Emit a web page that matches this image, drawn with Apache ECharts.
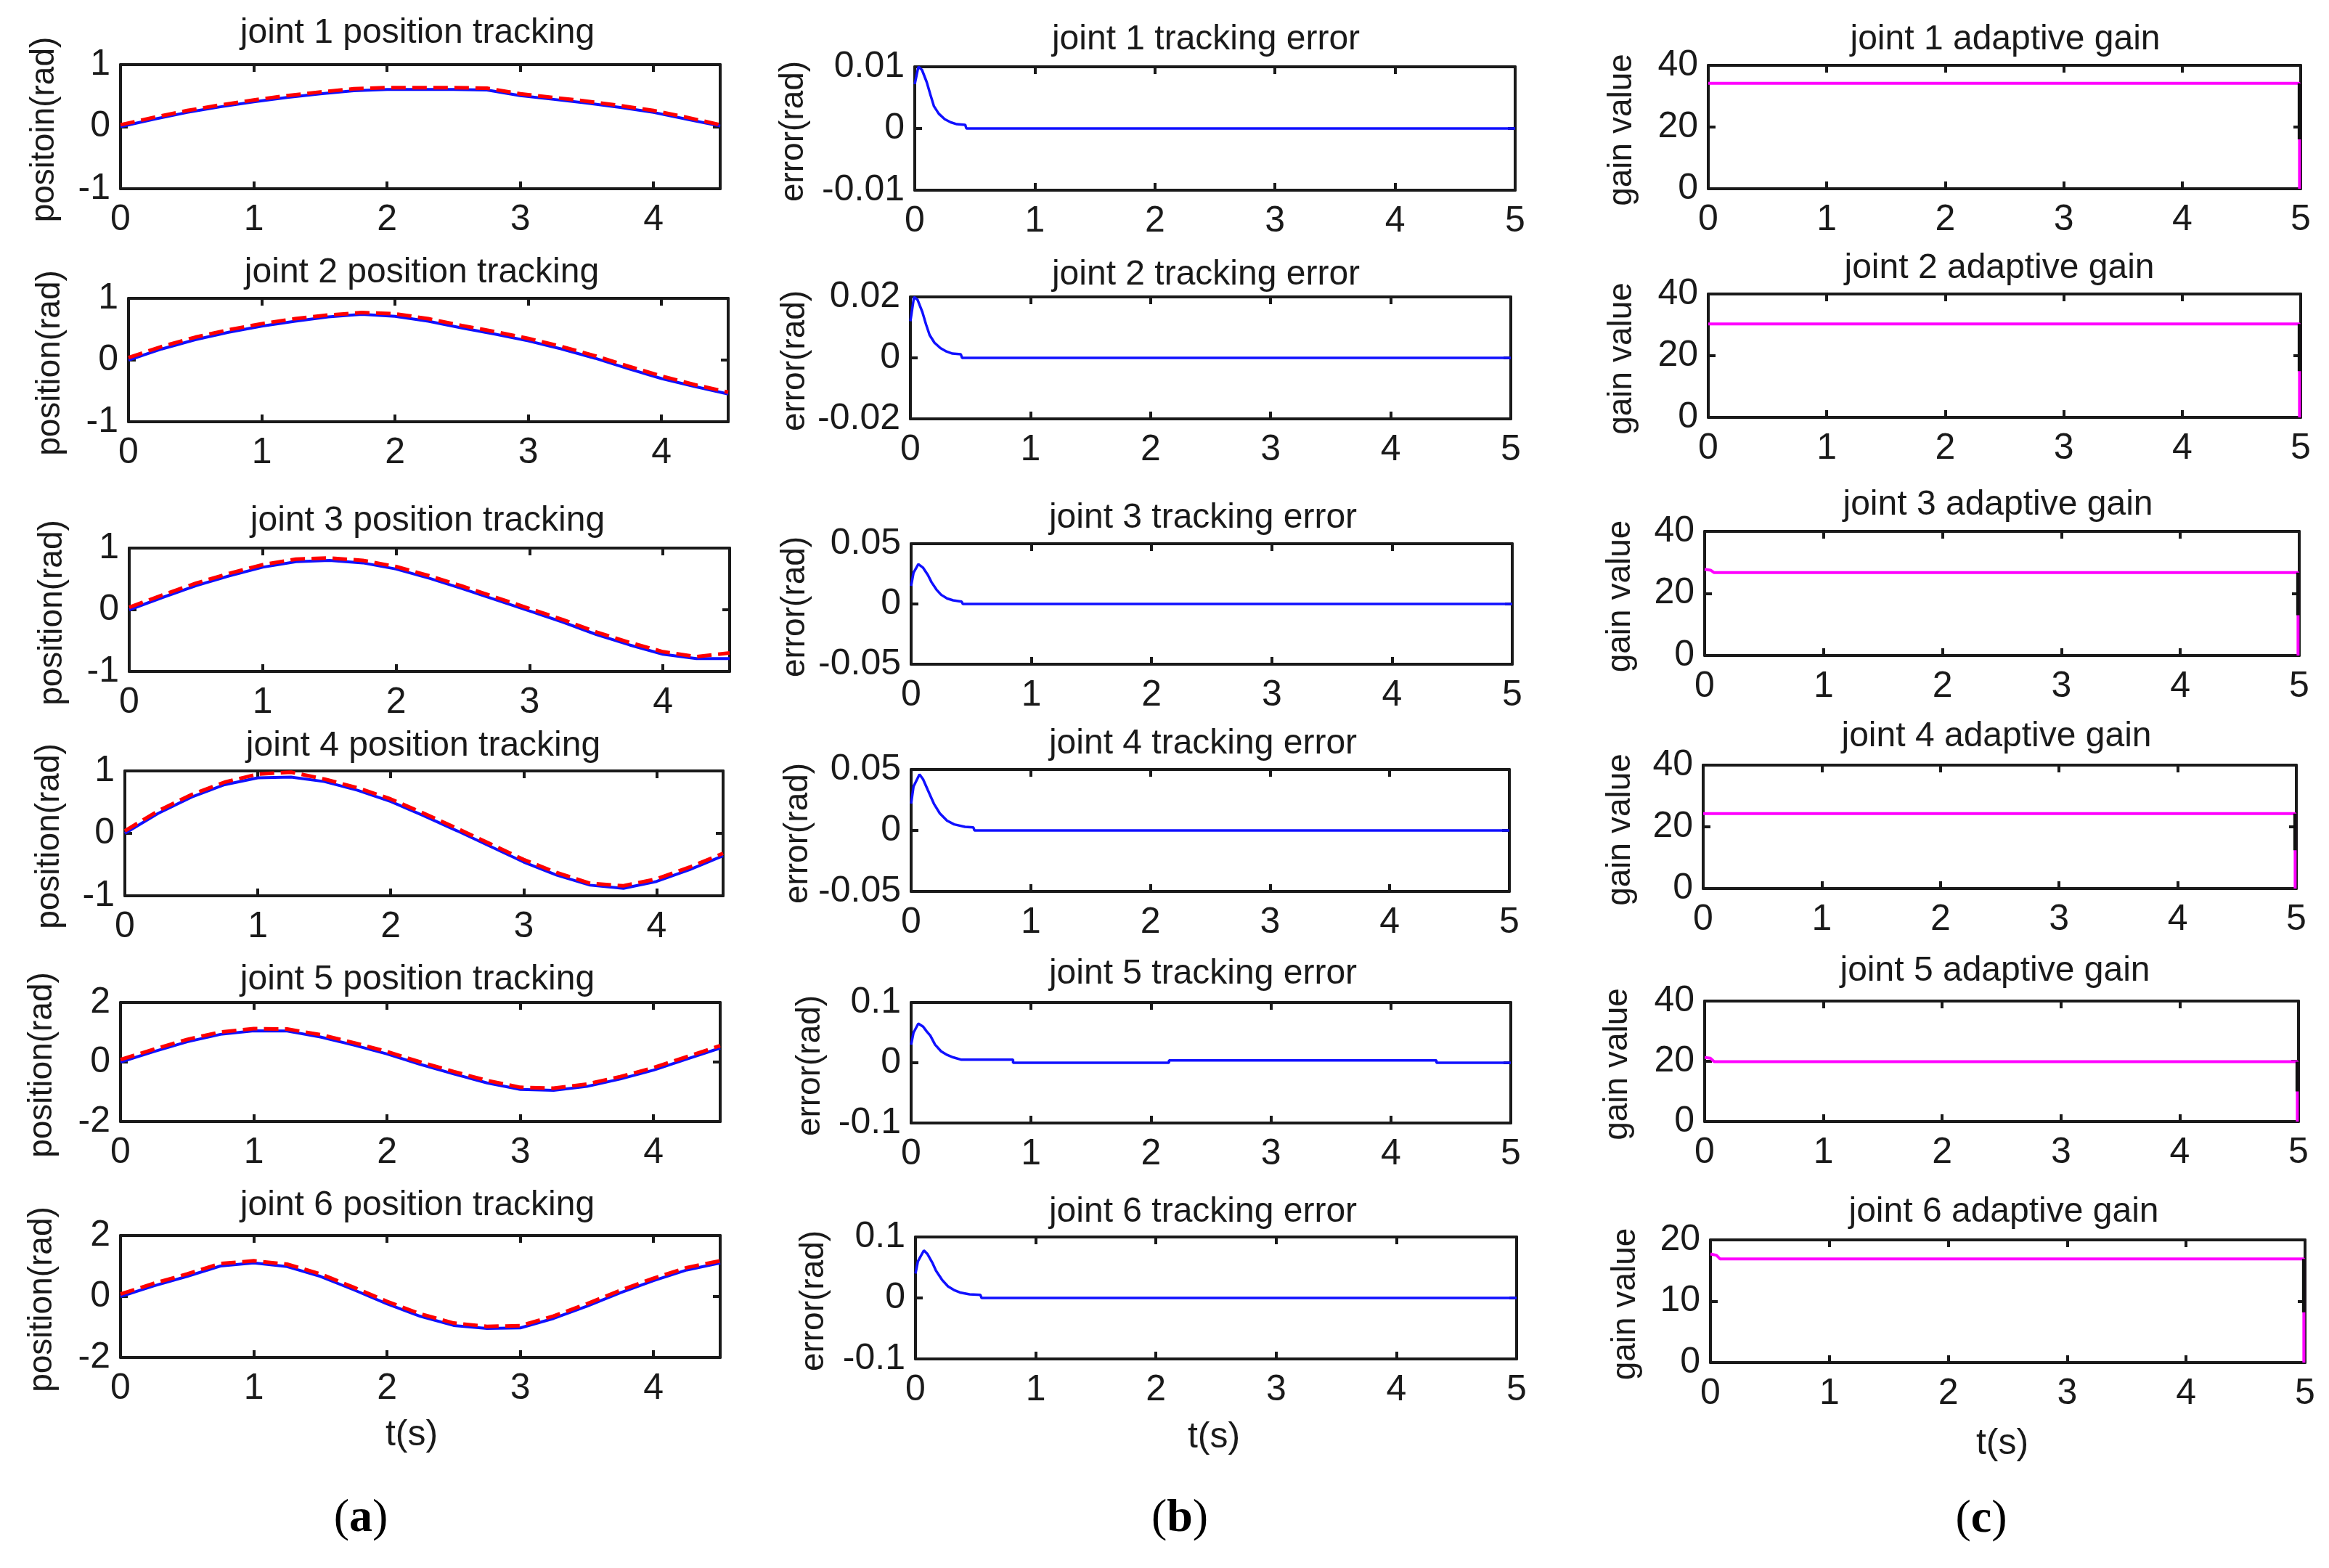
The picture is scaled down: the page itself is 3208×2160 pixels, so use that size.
<!DOCTYPE html>
<html>
<head>
<meta charset="utf-8">
<title>joint tracking</title>
<script src="https://cdn.jsdelivr.net/npm/echarts@6/dist/echarts.min.js"></script>
<style>
html, body { margin: 0; padding: 0; background: #fff; }
#chart { width: 3208px; height: 2160px; }
</style>
</head>
<body>
<div id="chart"></div>
<script>
// time base of the position plots (s)
var posTime = [0, 0.25, 0.5, 0.75, 1, 1.25, 1.5, 1.75, 2, 2.25, 2.5, 2.75, 3, 3.25, 3.5, 3.75, 4, 4.25, 4.5];

// actual (blue) and reference (red dashed) joint positions (rad)
var actJoint1 = [0, 0.12, 0.23, 0.32, 0.4, 0.47, 0.53, 0.58, 0.6, 0.6, 0.6, 0.59, 0.5, 0.44, 0.38, 0.31, 0.23, 0.12, 0.01];
var refJoint1 = [0.03, 0.15, 0.26, 0.35, 0.43, 0.5, 0.56, 0.61, 0.63, 0.63, 0.63, 0.62, 0.53, 0.47, 0.41, 0.34, 0.26, 0.15, 0.03];
var actJoint2 = [0, 0.18, 0.33, 0.45, 0.55, 0.63, 0.7, 0.74, 0.71, 0.63, 0.52, 0.42, 0.31, 0.18, 0.03, -0.14, -0.3, -0.43, -0.55];
var refJoint2 = [0.04, 0.22, 0.37, 0.49, 0.59, 0.67, 0.73, 0.77, 0.75, 0.67, 0.56, 0.46, 0.35, 0.22, 0.07, -0.1, -0.26, -0.4, -0.52];
var actJoint3 = [0, 0.2, 0.39, 0.55, 0.69, 0.78, 0.8, 0.76, 0.66, 0.51, 0.34, 0.16, -0.02, -0.2, -0.4, -0.57, -0.72, -0.79, -0.79];
var refJoint3 = [0.04, 0.24, 0.43, 0.59, 0.73, 0.82, 0.84, 0.8, 0.7, 0.55, 0.38, 0.2, 0.02, -0.16, -0.36, -0.53, -0.68, -0.76, -0.7];
var actJoint4 = [0, 0.32, 0.58, 0.78, 0.89, 0.9, 0.83, 0.69, 0.51, 0.28, 0.04, -0.21, -0.46, -0.67, -0.83, -0.88, -0.77, -0.58, -0.36];
var refJoint4 = [0.04, 0.36, 0.62, 0.82, 0.95, 0.98, 0.87, 0.73, 0.55, 0.32, 0.08, -0.17, -0.42, -0.63, -0.8, -0.84, -0.73, -0.54, -0.32];
var actJoint5 = [0, 0.35, 0.68, 0.93, 1.05, 1.04, 0.84, 0.57, 0.27, -0.08, -0.4, -0.7, -0.92, -0.95, -0.82, -0.57, -0.27, 0.1, 0.47];
var refJoint5 = [0.08, 0.43, 0.76, 1.01, 1.12, 1.11, 0.92, 0.65, 0.35, 0, -0.32, -0.62, -0.85, -0.88, -0.74, -0.49, -0.19, 0.18, 0.55];
var actJoint6 = [0, 0.35, 0.66, 1.0, 1.1, 0.98, 0.66, 0.22, -0.24, -0.65, -0.95, -1.05, -1.03, -0.72, -0.32, 0.12, 0.52, 0.87, 1.1];
var refJoint6 = [0.08, 0.43, 0.74, 1.08, 1.17, 1.06, 0.74, 0.3, -0.16, -0.57, -0.87, -0.98, -0.96, -0.64, -0.24, 0.2, 0.6, 0.95, 1.17];

// tracking errors (rad)
var errTime1 = [0, 0.03, 0.06, 0.1, 0.13, 0.16, 0.2, 0.25, 0.3, 0.35, 0.42, 0.43, 5];
var errJoint1 = [0.0072, 0.01, 0.0095, 0.0075, 0.0055, 0.0036, 0.0024, 0.0015, 0.001, 0.0007, 0.0006, 0, 0];
var errTime2 = [0, 0.03, 0.06, 0.1, 0.13, 0.16, 0.2, 0.25, 0.3, 0.35, 0.42, 0.43, 5];
var errJoint2 = [0.012, 0.02, 0.019, 0.015, 0.011, 0.0075, 0.005, 0.0032, 0.0021, 0.0014, 0.0012, 0, 0];
var errTime3 = [0, 0.02, 0.06, 0.1, 0.14, 0.17, 0.21, 0.25, 0.3, 0.35, 0.42, 0.43, 5];
var errJoint3 = [0.015, 0.026, 0.033, 0.03, 0.024, 0.018, 0.012, 0.0076, 0.0045, 0.003, 0.002, 0, 0];
var errTime4 = [0, 0.02, 0.07, 0.1, 0.14, 0.19, 0.24, 0.3, 0.36, 0.45, 0.52, 0.53, 5];
var errJoint4 = [0.022, 0.036, 0.046, 0.042, 0.033, 0.022, 0.014, 0.008, 0.005, 0.003, 0.0025, 0, 0];
var errTime5 = [0, 0.02, 0.06, 0.1, 0.13, 0.16, 0.2, 0.25, 0.3, 0.35, 0.42, 0.85, 0.85, 2.15, 2.15, 4.38, 4.38, 5];
var errJoint5 = [0.03, 0.05, 0.065, 0.06, 0.052, 0.045, 0.03, 0.019, 0.013, 0.009, 0.005, 0.005, 0, 0, 0.004, 0.004, 0, 0];
var errTime6 = [0, 0.02, 0.07, 0.1, 0.14, 0.17, 0.22, 0.27, 0.32, 0.37, 0.45, 0.54, 0.55, 5];
var errJoint6 = [0.04, 0.06, 0.078, 0.072, 0.058, 0.045, 0.03, 0.019, 0.013, 0.009, 0.006, 0.005, 0, 0];

// adaptive gains
var gainTime = [0, 0.05, 0.08, 4.99, 4.99];
var gainJoint1 = [34.2, 34.2, 34.2, 34.2, 0];
var gainJoint2 = [30.3, 30.3, 30.3, 30.3, 0];
var gainJoint3 = [27.8, 27.5, 26.7, 26.7, 0];
var gainJoint4 = [24.3, 24.3, 24.3, 24.3, 0];
var gainJoint5 = [21.3, 21, 19.9, 19.9, 0];
var gainJoint6 = [17.7, 17.5, 16.9, 16.9, 0];
var gainCut = [16, 15, 13, 12.4, 10, 8.2];

// axis ranges per row [min, max, step]
var posRange = [[-1, 1, 1], [-1, 1, 1], [-1, 1, 1], [-1, 1, 1], [-2, 2, 2], [-2, 2, 2]];
var errRange = [[-0.01, 0.01, 0.01], [-0.02, 0.02, 0.02], [-0.05, 0.05, 0.05], [-0.05, 0.05, 0.05], [-0.1, 0.1, 0.1], [-0.1, 0.1, 0.1]];
var gainRange = [[0, 40, 20], [0, 40, 20], [0, 40, 20], [0, 40, 20], [0, 40, 20], [0, 20, 10]];

// plot boxes [left, top, right, bottom] in px
var boxA = [[166, 89, 992, 260], [177, 411, 1003, 581], [178, 755, 1005, 925], [172, 1062, 996, 1234], [166, 1381, 992, 1545], [166, 1702, 992, 1870]];
var boxB = [[1260, 92, 2087, 262], [1254, 409, 2081, 577], [1255, 749, 2083, 915], [1255, 1060, 2079, 1228], [1255, 1381, 2081, 1547], [1261, 1704, 2089, 1872]];
var boxC = [[2353, 90, 3169, 260], [2353, 405, 3169, 575], [2348, 732, 3167, 903], [2346, 1054, 3163, 1224], [2348, 1379, 3166, 1545], [2356, 1708, 3175, 1877]];
var titleY = [[50, 380, 722, 1032, 1354, 1665], [59, 383, 718, 1029, 1346, 1674], [59, 374, 700, 1019, 1342, 1674]];
var titleX = [[575, 581, 589, 583, 575, 575], [1661, 1661, 1657, 1657, 1657, 1657], [2762, 2754, 2752, 2750, 2748, 2760]];
var nameX = [[61, 69, 72, 68, 58, 58], [1093, 1095, 1095, 1099, 1116, 1121], [2234, 2234, 2232, 2232, 2228, 2239]];

var actJoints = [actJoint1, actJoint2, actJoint3, actJoint4, actJoint5, actJoint6];
var refJoints = [refJoint1, refJoint2, refJoint3, refJoint4, refJoint5, refJoint6];
var errTimes = [errTime1, errTime2, errTime3, errTime4, errTime5, errTime6];
var errJoints = [errJoint1, errJoint2, errJoint3, errJoint4, errJoint5, errJoint6];
var gainJoints = [gainJoint1, gainJoint2, gainJoint3, gainJoint4, gainJoint5, gainJoint6];

var font = "'Liberation Sans', Arial, sans-serif";
var ink = '#1a1a1a';

var charts = echarts.init(document.getElementById('chart'));

var grids = [], xAxes = [], yAxes = [], series = [], titles = [], graphics = [];

function pairs(xs, ys) {
	var out = [];
	for (var i = 0; i < xs.length; i++) {
		out.push([xs[i], ys[i]]);
	}
	return out;
}

function addPanel(box, xMax, range) {
	var g = grids.length;
	grids.push({
		left : box[0],
		top : box[1],
		width : box[2] - box[0],
		height : box[3] - box[1]
	});
	var tick = {
		show : true,
		inside : true,
		length : 10,
		lineStyle : { color : ink, width : 4 }
	};
	var line = {
		show : true,
		onZero : false,
		lineStyle : { color : ink, width : 4 }
	};
	['bottom', 'top'].forEach(function(pos) {
		xAxes.push({
			gridIndex : g,
			type : 'value',
			position : pos,
			min : 0,
			max : xMax,
			interval : 1,
			axisLine : line,
			axisTick : tick,
			splitLine : { show : false },
			axisLabel : {
				show : pos == 'bottom',
				fontSize : 50,
				fontFamily : font,
				color : ink,
				margin : 18,
				formatter : function(v) {
					return v % 1 === 0 ? String(v) : '';
				}
			}
		});
	});
	['left', 'right'].forEach(function(pos) {
		yAxes.push({
			gridIndex : g,
			type : 'value',
			position : pos,
			min : range[0],
			max : range[1],
			interval : range[2],
			axisLine : line,
			axisTick : tick,
			splitLine : { show : false },
			axisLabel : {
				show : pos == 'left',
				fontSize : 50,
				fontFamily : font,
				color : ink,
				margin : 14
			}
		});
	});
	return g;
}

function addTitle(text, x, y) {
	titles.push({
		text : text,
		left : x,
		top : y - 28,
		textAlign : 'center',
		padding : 0,
		textStyle : { fontSize : 48, fontWeight : 'normal', fontFamily : font, color : ink }
	});
}

function addName(text, x, y) {
	graphics.push({
		type : 'text',
		x : x,
		y : y,
		rotation : Math.PI / 2,
		style : {
			text : text,
			fontSize : 46,
			fontFamily : font,
			fill : ink,
			align : 'center',
			verticalAlign : 'middle'
		}
	});
}

for (var i = 0; i < 6; i++) {
	var n = i + 1;

	// (a) position tracking
	var ga = addPanel(boxA[i], 4.5, posRange[i]);
	series.push({
		type : 'line', xAxisIndex : 2 * ga, yAxisIndex : 2 * ga,
		data : pairs(posTime, actJoints[i]), showSymbol : false, silent : true,
		lineStyle : { color : '#1010ff', width : 4 }
	});
	series.push({
		type : 'line', xAxisIndex : 2 * ga, yAxisIndex : 2 * ga,
		data : pairs(posTime, refJoints[i]), showSymbol : false, silent : true,
		lineStyle : { color : '#ff0000', width : 5, type : [20, 9] }
	});
	addTitle('joint ' + n + ' position tracking', titleX[0][i], titleY[0][i]);
	addName(i == 0 ? 'positoin(rad)' : 'position(rad)', nameX[0][i], (boxA[i][1] + boxA[i][3]) / 2 + 4);

	// (b) tracking error
	var gb = addPanel(boxB[i], 5, errRange[i]);
	series.push({
		type : 'line', xAxisIndex : 2 * gb, yAxisIndex : 2 * gb,
		data : pairs(errTimes[i], errJoints[i]), showSymbol : false, silent : true,
		lineStyle : { color : '#1010ff', width : 3.5 }
	});
	addTitle('joint ' + n + ' tracking error', titleX[1][i], titleY[1][i]);
	addName('error(rad)', nameX[1][i], (boxB[i][1] + boxB[i][3]) / 2 + 4);

	// (c) adaptive gain
	var gc = addPanel(boxC[i], 5, gainRange[i]);
	series.push({
		type : 'line', xAxisIndex : 2 * gc, yAxisIndex : 2 * gc,
		data : pairs(gainTime, gainJoints[i]), showSymbol : false, silent : true,
		lineStyle : { color : '#ff00ff', width : 4 }
	});
	series.push({
		type : 'line', xAxisIndex : 2 * gc, yAxisIndex : 2 * gc,
		data : [[gainTime[3], gainJoints[i][3]], [gainTime[3], gainCut[i]]],
		showSymbol : false, silent : true,
		lineStyle : { color : '#111', width : 5 }
	});
	addTitle('joint ' + n + ' adaptive gain', titleX[2][i], titleY[2][i]);
	addName('gain value', nameX[2][i], (boxC[i][1] + boxC[i][3]) / 2 + 4);
}

// x labels and panel captions
[[567, 1977], [1672, 1980], [2758, 1989]].forEach(function(p) {
	graphics.push({
		type : 'text', x : p[0], y : p[1],
		style : { text : 't(s)', fontSize : 50, fontFamily : font, fill : ink, align : 'center', verticalAlign : 'middle' }
	});
});
[['a', 497, 2092], ['b', 1625, 2092], ['c', 2729, 2093]].forEach(function(p) {
	graphics.push({
		type : 'text', x : p[1], y : p[2],
		style : {
			text : '{p|(}{b|' + p[0] + '}{p|)}',
			align : 'center',
			verticalAlign : 'middle',
			fill : '#000',
			rich : {
				p : { fontSize : 64, fontFamily : "'Liberation Serif', serif", fill : '#000' },
				b : { fontSize : 64, fontFamily : "'Liberation Serif', serif", fontWeight : 'bold', fill : '#000' }
			}
		}
	});
});

option = {
	animation : false,
	backgroundColor : '#fff',
	title : titles,
	grid : grids,
	xAxis : xAxes,
	yAxis : yAxes,
	series : series,
	graphic : graphics
};

charts.setOption(option);
</script>
</body>
</html>
